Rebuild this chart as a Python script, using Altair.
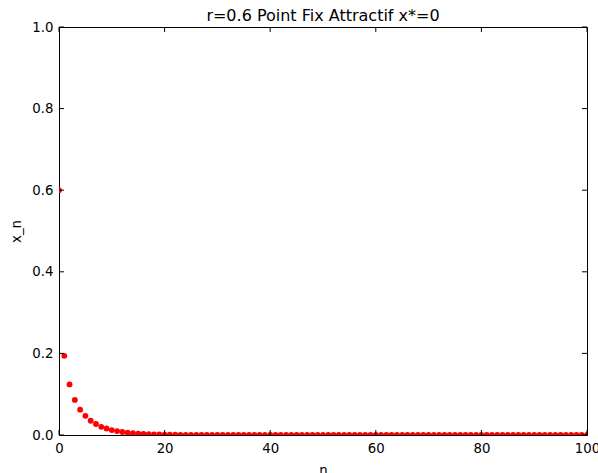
import altair as alt
import pandas as pd

TITLE = "r=0.6 Point Fix Attractif x*=0"

# Iterates x_n of the sequence, n = 0..100
n_values = list(range(0, 101))
x_values = [
    0.6, 0.194, 0.124, 0.086, 0.062, 0.047, 0.035, 0.027, 0.020, 0.016,
    0.012, 0.0095, 0.0074, 0.0057, 0.0044, 0.0034, 0.0027, 0.0021, 0.0016, 0.0012,
    0.0010, 0.0007, 0.0006, 0.00045, 0.00035, 0.00027, 0.0002, 0.00015, 0.0001, 0.0,
    0.0, 0.0, 0.0, 0.0, 0.0, 0.0, 0.0, 0.0, 0.0, 0.0,
    0.0, 0.0, 0.0, 0.0, 0.0, 0.0, 0.0, 0.0, 0.0, 0.0,
    0.0, 0.0, 0.0, 0.0, 0.0, 0.0, 0.0, 0.0, 0.0, 0.0,
    0.0, 0.0, 0.0, 0.0, 0.0, 0.0, 0.0, 0.0, 0.0, 0.0,
    0.0, 0.0, 0.0, 0.0, 0.0, 0.0, 0.0, 0.0, 0.0, 0.0,
    0.0, 0.0, 0.0, 0.0, 0.0, 0.0, 0.0, 0.0, 0.0, 0.0,
    0.0, 0.0, 0.0, 0.0, 0.0, 0.0, 0.0, 0.0, 0.0, 0.0,
    0.0,
]
x_ticks = [0, 20, 40, 60, 80, 100]
y_ticks = [0.0, 0.2, 0.4, 0.6, 0.8, 1.0]

W, H = 528, 408
FONT = "DejaVu Sans"
FS = 13.3

df = pd.DataFrame({"n": n_values, "x_n": x_values})
xt = pd.DataFrame({"n": x_ticks})
yt = pd.DataFrame({"x_n": y_ticks})
tt = pd.DataFrame({"label": [TITLE]})

x_scale = alt.Scale(domain=[0, 100], nice=False, zero=False)
y_scale = alt.Scale(domain=[0, 1], nice=False, zero=False)
x_axis = alt.Axis(values=x_ticks, format="d", tickSize=0, labelPadding=6,
                  titlePadding=9, grid=False, domain=False, labelFlush=False,
                  labelOverlap=False, labelBound=False)
y_axis = alt.Axis(values=y_ticks, format=".1f", tickSize=0, labelPadding=6,
                  titlePadding=8, grid=False, domain=False, labelFlush=False,
                  labelOverlap=False, labelBound=False)
X = alt.X("n:Q", scale=x_scale, title="n", axis=x_axis)
Y = alt.Y("x_n:Q", scale=y_scale, title="x_n", axis=y_axis)

points = alt.Chart(df).mark_circle(color="#ff0000", size=34, opacity=1, clip=True).encode(
    x=X, y=Y)

# inward tick marks on all four sides
tick_style = dict(color="black", strokeWidth=1)
bottom = alt.Chart(xt).mark_rule(**tick_style).encode(
    x=X, y=alt.value(H), y2=alt.value(H - 5))
top = alt.Chart(xt).mark_rule(**tick_style).encode(
    x=X, y=alt.value(0), y2=alt.value(5))
left = alt.Chart(yt).mark_rule(**tick_style).encode(
    y=Y, x=alt.value(0), x2=alt.value(5))
right = alt.Chart(yt).mark_rule(**tick_style).encode(
    y=Y, x=alt.value(W), x2=alt.value(W - 5))

# chart title, centred above the plot area
title = alt.Chart(tt).mark_text(
    font=FONT, fontSize=16, color="black", align="center", baseline="alphabetic"
).encode(text="label:N", x=alt.value(W / 2), y=alt.value(-6))

chart = alt.layer(points, bottom, top, left, right, title).properties(
    width=W, height=H,
    autosize=alt.AutoSizeParams(type="none"),
    padding={"left": 59, "top": 27, "right": 11, "bottom": 38},
).configure(
    background="white",
    view=alt.ViewConfig(stroke="black", strokeWidth=1),
    axis=alt.AxisConfig(
        labelFont=FONT, titleFont=FONT, labelFontSize=FS, titleFontSize=FS,
        labelColor="black", titleColor="black", titleFontWeight="normal",
    ),
)

chart.save("out.html", embed_options={"renderer": "svg", "actions": False})
